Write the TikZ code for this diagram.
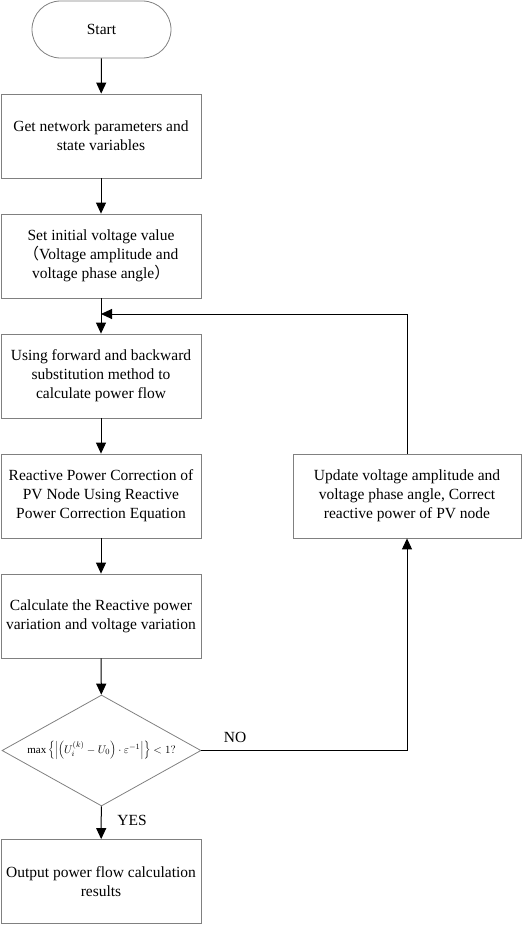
\documentclass[tikz,border=0pt]{standalone}
\usepackage{fontspec}
\setmainfont{Liberation Serif}
\newfontfamily\cjk{Noto Sans CJK SC}
\usetikzlibrary{shapes.geometric,arrows.meta}
\tikzset{
  box/.style={draw=gray,line width=0.8pt,rectangle,minimum width=200pt,minimum height=84pt,
    inner sep=0pt,align=center,font=\fontsize{15.5}{19}\selectfont},
  flow/.style={-{Triangle[length=11pt,width=10pt]},line width=1pt},
  lbl/.style={font=\fontsize{15.5}{19}\selectfont}
}
\begin{document}
\begin{tikzpicture}[x=1pt,y=-1pt]
\useasboundingbox (0,0) rectangle (526,926);
\node[box,rounded corners=28.5pt,minimum width=139pt,minimum height=57pt] (start) at (101.5,29.5) {Start};
\node[box] (getpar) at (101,136) {Get network parameters and\\state variables};
\node[box] (initv) at (101,256) {Set initial voltage value\\{\cjk （}Voltage amplitude and\\voltage phase angle{\cjk ）}};
\node[box] (fwbw) at (101,376) {Using forward and backward\\substitution method to\\calculate power flow};
\node[box] (qcorr) at (101,496) {Reactive Power Correction of\\PV Node Using Reactive\\Power Correction Equation};
\node[box] (dvar) at (101,616) {Calculate the Reactive power\\variation and voltage variation};
\node[draw=gray,line width=0.8pt,diamond,aspect=1.8,minimum width=199pt,minimum height=111pt,
  inner sep=0pt,font=\fontsize{11}{13}\selectfont] (test) at (101.5,750.5)
  {$\max\left\{\left|\left(U_i^{(k)}-U_0\right)\cdot\varepsilon^{-1}\right|\right\}<1?$};
\node[box] (outres) at (101,881.5) {Output power flow calculation\\results};
\node[box,minimum width=228pt] (update) at (407,496) {Update voltage amplitude and\\voltage phase angle, Correct\\reactive power of PV node};

\coordinate (join) at (101,314);
\draw[flow] (start) -- (getpar);
\draw[flow] (getpar) -- (initv);
\draw[flow] (initv) -- (fwbw);
\draw[flow] (fwbw) -- (qcorr);
\draw[flow] (qcorr) -- (dvar);
\draw[flow] (dvar) -- (test);
\draw[flow] (test) -- (outres);
\draw[flow] (test.east) -| (update.south);
\draw[flow] (update.north) |- (join);

\node[lbl] (no) at (235,737) {NO};
\node[lbl] (yes) at (132,820) {YES};
\end{tikzpicture}
\end{document}
